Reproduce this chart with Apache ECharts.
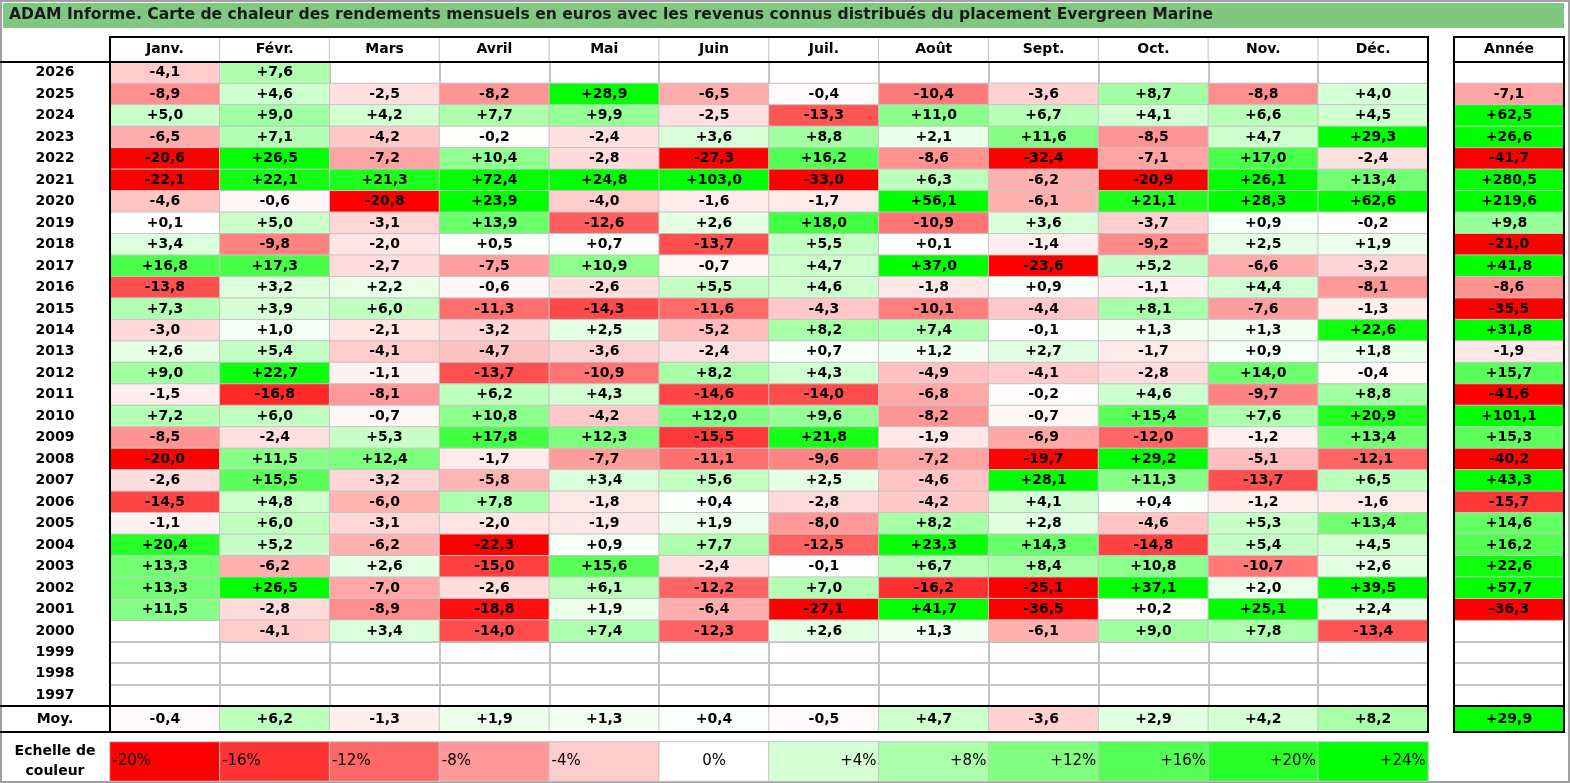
<!DOCTYPE html>
<html>
<head>
<meta charset="utf-8">
<script src="https://cdn.jsdelivr.net/npm/echarts@6/dist/echarts.min.js"></script>
<style>
html, body { margin: 0; padding: 0; background: #fff; }
#heat { width: 1570px; height: 783px; }
</style>
</head>
<body>
<div id="heat"></div>
<script>
var titre = 'ADAM Informe. Carte de chaleur des rendements mensuels en euros avec les revenus connus distribués du placement Evergreen Marine';

var mois = ['Janv.', 'Févr.', 'Mars', 'Avril', 'Mai', 'Juin', 'Juil.', 'Août', 'Sept.', 'Oct.', 'Nov.', 'Déc.'];
var annees = ['2026', '2025', '2024', '2023', '2022', '2021', '2020', '2019', '2018', '2017',
              '2016', '2015', '2014', '2013', '2012', '2011', '2010', '2009', '2008', '2007',
              '2006', '2005', '2004', '2003', '2002', '2001', '2000', '1999', '1998', '1997'];

// rendements mensuels en %, une ligne par année (null = pas de cotation)
var rendements = [
    [-4.1, 7.6, null, null, null, null, null, null, null, null, null, null],      // 2026
    [-8.9, 4.6, -2.5, -8.2, 28.9, -6.5, -0.4, -10.4, -3.6, 8.7, -8.8, 4.0],       // 2025
    [5.0, 9.0, 4.2, 7.7, 9.9, -2.5, -13.3, 11.0, 6.7, 4.1, 6.6, 4.5],             // 2024
    [-6.5, 7.1, -4.2, -0.2, -2.4, 3.6, 8.8, 2.1, 11.6, -8.5, 4.7, 29.3],          // 2023
    [-20.6, 26.5, -7.2, 10.4, -2.8, -27.3, 16.2, -8.6, -32.4, -7.1, 17.0, -2.4],  // 2022
    [-22.1, 22.1, 21.3, 72.4, 24.8, 103.0, -33.0, 6.3, -6.2, -20.9, 26.1, 13.4],  // 2021
    [-4.6, -0.6, -20.8, 23.9, -4.0, -1.6, -1.7, 56.1, -6.1, 21.1, 28.3, 62.6],    // 2020
    [0.1, 5.0, -3.1, 13.9, -12.6, 2.6, 18.0, -10.9, 3.6, -3.7, 0.9, -0.2],        // 2019
    [3.4, -9.8, -2.0, 0.5, 0.7, -13.7, 5.5, 0.1, -1.4, -9.2, 2.5, 1.9],           // 2018
    [16.8, 17.3, -2.7, -7.5, 10.9, -0.7, 4.7, 37.0, -23.6, 5.2, -6.6, -3.2],      // 2017
    [-13.8, 3.2, 2.2, -0.6, -2.6, 5.5, 4.6, -1.8, 0.9, -1.1, 4.4, -8.1],          // 2016
    [7.3, 3.9, 6.0, -11.3, -14.3, -11.6, -4.3, -10.1, -4.4, 8.1, -7.6, -1.3],     // 2015
    [-3.0, 1.0, -2.1, -3.2, 2.5, -5.2, 8.2, 7.4, -0.1, 1.3, 1.3, 22.6],           // 2014
    [2.6, 5.4, -4.1, -4.7, -3.6, -2.4, 0.7, 1.2, 2.7, -1.7, 0.9, 1.8],            // 2013
    [9.0, 22.7, -1.1, -13.7, -10.9, 8.2, 4.3, -4.9, -4.1, -2.8, 14.0, -0.4],      // 2012
    [-1.5, -16.8, -8.1, 6.2, 4.3, -14.6, -14.0, -6.8, -0.2, 4.6, -9.7, 8.8],      // 2011
    [7.2, 6.0, -0.7, 10.8, -4.2, 12.0, 9.6, -8.2, -0.7, 15.4, 7.6, 20.9],         // 2010
    [-8.5, -2.4, 5.3, 17.8, 12.3, -15.5, 21.8, -1.9, -6.9, -12.0, -1.2, 13.4],    // 2009
    [-20.0, 11.5, 12.4, -1.7, -7.7, -11.1, -9.6, -7.2, -19.7, 29.2, -5.1, -12.1], // 2008
    [-2.6, 15.5, -3.2, -5.8, 3.4, 5.6, 2.5, -4.6, 28.1, 11.3, -13.7, 6.5],        // 2007
    [-14.5, 4.8, -6.0, 7.8, -1.8, 0.4, -2.8, -4.2, 4.1, 0.4, -1.2, -1.6],         // 2006
    [-1.1, 6.0, -3.1, -2.0, -1.9, 1.9, -8.0, 8.2, 2.8, -4.6, 5.3, 13.4],          // 2005
    [20.4, 5.2, -6.2, -22.3, 0.9, 7.7, -12.5, 23.3, 14.3, -14.8, 5.4, 4.5],       // 2004
    [13.3, -6.2, 2.6, -15.0, 15.6, -2.4, -0.1, 6.7, 8.4, 10.8, -10.7, 2.6],       // 2003
    [13.3, 26.5, -7.0, -2.6, 6.1, -12.2, 7.0, -16.2, -25.1, 37.1, 2.0, 39.5],     // 2002
    [11.5, -2.8, -8.9, -18.8, 1.9, -6.4, -27.1, 41.7, -36.5, 0.2, 25.1, 2.4],     // 2001
    [null, -4.1, 3.4, -14.0, 7.4, -12.3, 2.6, 1.3, -6.1, 9.0, 7.8, -13.4],        // 2000
    [null, null, null, null, null, null, null, null, null, null, null, null],     // 1999
    [null, null, null, null, null, null, null, null, null, null, null, null],     // 1998
    [null, null, null, null, null, null, null, null, null, null, null, null]      // 1997
];

// rendement de l'année, même ordre que annees
var annuel = [null, -7.1, 62.5, 26.6, -41.7, 280.5, 219.6, 9.8, -21.0, 41.8,
              -8.6, -35.5, 31.8, -1.9, 15.7, -41.6, 101.1, 15.3, -40.2, 43.3,
              -15.7, 14.6, 16.2, 22.6, 57.7, -36.3, null, null, null, null];

var moyenne = [-0.4, 6.2, -1.3, 1.9, 1.3, 0.4, -0.5, 4.7, -3.6, 2.9, 4.2, 8.2];
var moyenneAnnee = 29.9;

var echelle = [-20, -16, -12, -8, -4, 0, 4, 8, 12, 16, 20, 24];

var police = 'DejaVu Sans';

function fmt(v) {
    return (v >= 0 ? '+' : '') + v.toFixed(1).replace('.', ',');
}

// données des heatmaps
var dataMois = [];
rendements.forEach(function (ligne, j) {
    ligne.forEach(function (v, i) {
        if (v !== null) dataMois.push([i, j, v]);
    });
});
var dataAnnuel = [];
annuel.forEach(function (v, j) {
    if (v !== null) dataAnnuel.push([0, j, v]);
});
var dataMoy = moyenne.map(function (v, i) { return [i, 0, v]; });
var dataEchelle = echelle.map(function (v, i) {
    var pos = v < 0 ? 'insideLeft' : (v > 0 ? 'insideRight' : 'inside');
    return { value: [i, 0, v], label: { position: pos } };
});

var gris = '#c4c4c4';

function axeX(g, cats) {
    return {
        type: 'category', gridIndex: g, data: cats,
        axisLine: { show: false }, axisTick: { show: false }, axisLabel: { show: false },
        splitLine: { show: true, showMinLine: false, showMaxLine: false, lineStyle: { color: gris, width: 2 } }
    };
}
function axeY(g, cats, labels) {
    return {
        type: 'category', gridIndex: g, data: cats, inverse: true,
        axisLine: { show: false }, axisTick: { show: false },
        axisLabel: {
            show: labels, align: 'center', margin: 55, color: '#000',
            fontFamily: police, fontWeight: 'bold', fontSize: 14, lineHeight: 20
        },
        splitLine: { show: true, showMinLine: false, showMaxLine: false, lineStyle: { color: gris, width: 2 } }
    };
}

var etiquette = {
    show: true, color: '#000', fontFamily: police, fontWeight: 'bold', fontSize: 14,
    formatter: function (p) { return fmt(p.value[2]); }
};
var bordure = { borderColor: gris, borderWidth: 1 };

function ligne(x1, y1, x2, y2) {
    return { type: 'line', z: 100, shape: { x1: x1, y1: y1, x2: x2, y2: y2 },
             style: { stroke: '#000', lineWidth: 2 } };
}

var myChart = echarts.init(document.getElementById('heat'));

var option = {
    backgroundColor: '#fff',
    animation: false,
    title: {
        text: titre, left: 9, top: 7, padding: 0,
        textStyle: { fontFamily: police, fontWeight: 'bold', fontSize: 15.6, color: '#1a1a1a' }
    },
    grid: [
        { left: 110, top: 37, width: 1318, height: 25 },
        { left: 110, top: 62, width: 1318, height: 644 },
        { left: 110, top: 706, width: 1318, height: 26 },
        { left: 1454, top: 37, width: 110, height: 25 },
        { left: 1454, top: 62, width: 110, height: 644 },
        { left: 1454, top: 706, width: 110, height: 26 },
        { left: 110, top: 742, width: 1318, height: 39 }
    ],
    xAxis: [
        axeX(0, mois), axeX(1, mois), axeX(2, mois),
        axeX(3, ['Année']), axeX(4, ['Année']), axeX(5, ['Année']),
        axeX(6, echelle)
    ],
    yAxis: [
        axeY(0, [''], false), axeY(1, annees, true), axeY(2, ['Moy.'], true),
        axeY(3, [''], false), axeY(4, annees, false), axeY(5, [''], false),
        axeY(6, ['Echelle de\ncouleur'], true)
    ],
    visualMap: {
        type: 'continuous', show: false, min: -20, max: 24, dimension: 2,
        seriesIndex: [1, 2, 4, 5, 6],
        inRange: {
            color: ['#ff0000', '#ff3333', '#ff6666', '#ff9999', '#ffcccc', '#ffffff',
                    '#d5ffd5', '#aaffaa', '#80ff80', '#55ff55', '#2aff2a', '#00ff00']
        }
    },
    graphic: [
        { type: 'rect', z: 0, shape: { x: 1, y: 1, width: 1568, height: 781 },
          style: { fill: 'none', stroke: '#a0a0a0', lineWidth: 2 } },
        { type: 'rect', z: 0, shape: { x: 3, y: 3, width: 1561, height: 25 },
          style: { fill: '#80c880' } },
        // cadre des mois
        ligne(110, 37, 1428, 37), ligne(0, 62, 1428, 62), ligne(0, 706, 1428, 706), ligne(0, 732, 1428, 732),
        ligne(110, 36, 110, 733), ligne(1428, 36, 1428, 733),
        // cadre de l'année
        ligne(1454, 37, 1564, 37), ligne(1454, 62, 1564, 62), ligne(1454, 706, 1564, 706), ligne(1454, 732, 1564, 732),
        ligne(1454, 36, 1454, 733), ligne(1564, 36, 1564, 733)
    ],
    series: [
        {
            type: 'heatmap', xAxisIndex: 0, yAxisIndex: 0,
            data: mois.map(function (m, i) { return [i, 0, 0]; }),
            itemStyle: { color: '#fff', borderColor: gris, borderWidth: 1 },
            label: {
                show: true, color: '#000', fontFamily: police, fontWeight: 'bold', fontSize: 14,
                formatter: function (p) { return mois[p.value[0]]; }
            }
        },
        { type: 'heatmap', xAxisIndex: 1, yAxisIndex: 1, data: dataMois, itemStyle: bordure, label: etiquette },
        { type: 'heatmap', xAxisIndex: 2, yAxisIndex: 2, data: dataMoy, itemStyle: bordure, label: etiquette },
        {
            type: 'heatmap', xAxisIndex: 3, yAxisIndex: 3, data: [[0, 0, 0]],
            itemStyle: { color: '#fff' },
            label: {
                show: true, color: '#000', fontFamily: police, fontWeight: 'bold', fontSize: 14,
                formatter: 'Année'
            }
        },
        { type: 'heatmap', xAxisIndex: 4, yAxisIndex: 4, data: dataAnnuel, itemStyle: bordure, label: etiquette },
        { type: 'heatmap', xAxisIndex: 5, yAxisIndex: 5, data: [[0, 0, moyenneAnnee]], itemStyle: bordure, label: etiquette },
        {
            type: 'heatmap', xAxisIndex: 6, yAxisIndex: 6, data: dataEchelle,
            itemStyle: bordure,
            label: {
                show: true, color: '#000', fontFamily: police, fontSize: 15, distance: 3,
                formatter: function (p) {
                    var v = p.value[2];
                    return (v > 0 ? '+' : '') + v + '%';
                }
            }
        }
    ]
};

myChart.setOption(option);
</script>
</body>
</html>
